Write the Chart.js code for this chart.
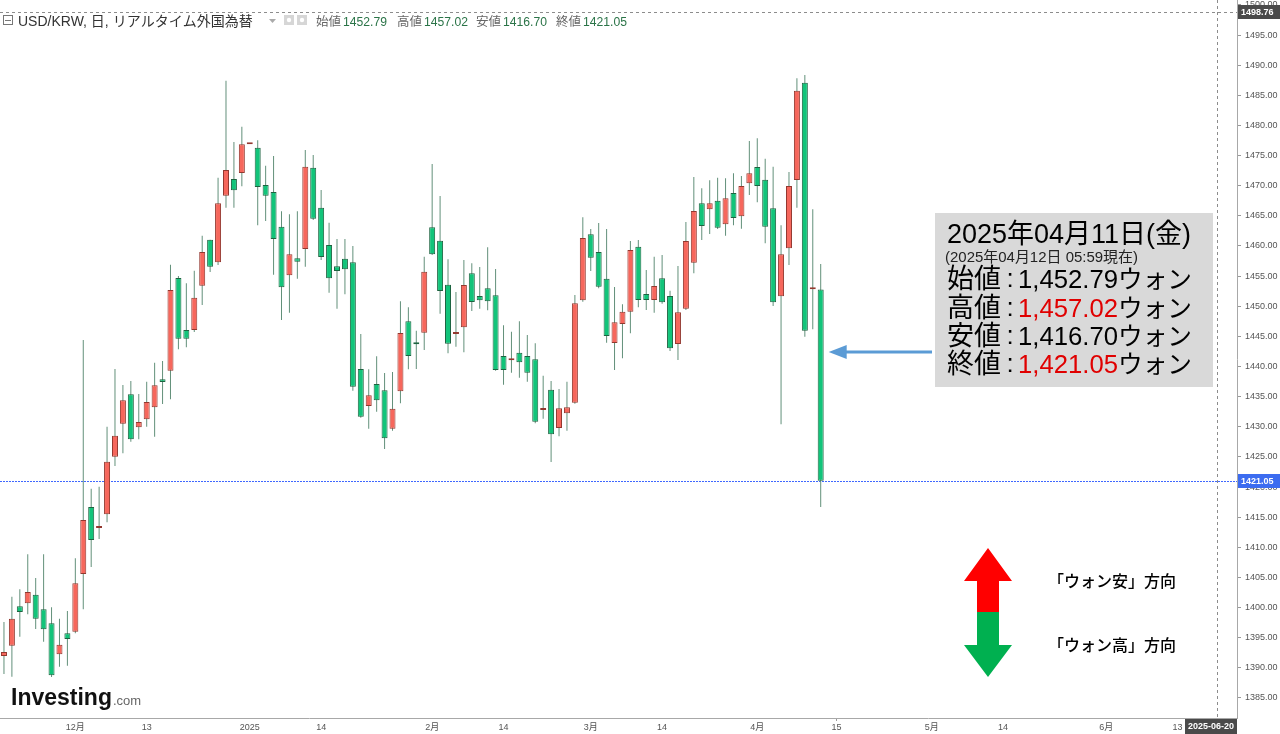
<!DOCTYPE html>
<html><head><meta charset="utf-8">
<script src="https://cdn.jsdelivr.net/npm/chart.js@4.4.1/dist/chart.umd.min.js"></script>
<style>html,body{margin:0;padding:0;background:#fff;overflow:hidden}canvas{display:block}</style>
</head><body>
<canvas id="c" width="1280" height="734"></canvas>
<script>
// ---- data ----
const firstDate = '2024-11-19';
const lastDate = '2025-06-24';
const opens = [1391.97,1393.68,1400.21,1400.71,1402.14,1399.71,1397.39,1392.25,1395.73,1396.00,
1405.57,1416.69,1413.20,1415.48,1425.03,1430.51,1435.39,1429.91,1431.24,1433.23,
1437.88,1439.30,1454.68,1446.06,1446.06,1453.41,1461.04,1457.29,1468.34,1471.11,
1472.11,1476.87,1476.30,1470.11,1468.95,1463.20,1455.13,1457.95,1459.50,1472.99,
1466.35,1460.16,1456.63,1457.89,1457.29,1439.59,1433.45,1437.10,1436.05,1429.68,
1435.88,1447.50,1443.78,1445.61,1463.10,1460.87,1453.57,1445.39,1446.50,1455.46,
1451.70,1452.97,1451.81,1441.74,1441.03,1442.29,1441.74,1441.19,1432.78,1436.15,
1429.80,1432.24,1433.99,1450.98,1461.93,1459.00,1454.57,1443.90,1447.05,1449.09,
1459.88,1452.03,1451.03,1454.63,1451.70,1443.73,1449.59,1457.22,1467.08,1466.08,
1467.51,1463.59,1468.79,1464.92,1470.40,1473.10,1470.99,1466.25,1451.65,1459.61,
1470.94,1487.09,1452.81,1452.79];
const highs = [1397.61,1401.80,1403.03,1408.84,1404.91,1408.84,1400.05,1398.15,1399.43,1408.18,
1444.40,1419.72,1420.06,1430.01,1439.59,1436.93,1437.59,1435.44,1437.48,1440.63,
1440.91,1456.89,1455.01,1453.80,1455.90,1461.70,1461.04,1471.33,1487.42,1477.25,
1479.79,1476.87,1477.53,1473.32,1474.93,1465.75,1465.25,1465.75,1475.92,1475.09,
1469.29,1463.86,1461.16,1461.16,1459.99,1445.39,1439.54,1441.69,1438.92,1439.09,
1450.82,1449.82,1445.94,1458.22,1473.60,1468.29,1457.79,1452.36,1457.67,1457.12,
1456.51,1459.78,1456.18,1446.84,1445.77,1447.50,1445.23,1443.85,1438.47,1437.59,
1436.27,1437.48,1451.86,1464.76,1462.81,1463.81,1462.81,1453.19,1450.32,1460.82,
1460.99,1456.01,1458.22,1458.50,1452.58,1456.68,1463.97,1471.44,1469.57,1470.89,
1471.33,1471.23,1472.06,1471.61,1477.42,1477.86,1474.48,1473.15,1463.43,1472.27,
1487.82,1488.37,1466.08,1457.02];
const lows = [1388.98,1388.53,1395.17,1398.89,1396.45,1394.34,1388.50,1390.19,1390.36,1395.73,
1399.71,1406.73,1411.38,1414.15,1423.49,1425.60,1427.50,1427.92,1430.01,1428.35,
1433.78,1434.56,1442.85,1443.19,1445.72,1450.20,1455.68,1456.84,1466.35,1466.35,
1469.90,1476.87,1463.43,1464.14,1455.23,1447.72,1448.93,1454.57,1456.56,1464.30,
1457.67,1452.25,1449.59,1451.98,1435.98,1431.50,1429.68,1432.50,1426.31,1429.35,
1433.89,1439.54,1439.59,1442.74,1458.50,1448.76,1442.19,1443.28,1442.36,1449.21,
1449.59,1449.32,1439.30,1436.98,1438.97,1438.14,1437.48,1430.60,1431.34,1424.16,
1428.42,1429.35,1433.80,1450.75,1455.85,1453.00,1443.95,1439.42,1441.36,1445.51,
1449.82,1449.37,1448.93,1450.40,1442.57,1441.08,1449.37,1455.46,1460.99,1461.98,
1462.80,1461.70,1463.43,1462.86,1468.46,1467.24,1460.44,1450.04,1430.41,1456.84,
1466.35,1444.94,1446.17,1416.70];
const closes = [1392.63,1398.15,1399.27,1402.59,1398.15,1396.40,1388.76,1393.84,1394.79,1404.03,
1414.53,1411.21,1413.37,1424.20,1428.52,1434.39,1427.92,1430.79,1434.11,1436.88,
1437.43,1452.69,1444.61,1444.61,1451.42,1459.00,1456.56,1467.08,1472.60,1469.24,
1476.87,1476.87,1469.78,1468.34,1461.16,1453.14,1458.62,1457.39,1473.15,1464.52,
1458.17,1454.63,1455.85,1456.13,1436.65,1431.67,1435.22,1434.39,1428.09,1433.00,
1445.56,1441.74,1443.68,1455.73,1458.62,1452.53,1443.78,1445.67,1453.52,1450.70,
1450.98,1450.82,1439.42,1439.42,1441.29,1440.70,1438.97,1430.84,1433.06,1428.75,
1433.06,1433.23,1450.49,1461.32,1458.05,1453.24,1445.06,1447.33,1449.09,1459.33,
1451.03,1451.03,1453.36,1450.65,1443.02,1448.99,1460.82,1465.80,1463.31,1467.08,
1463.03,1467.91,1464.64,1469.95,1472.06,1469.95,1463.20,1450.65,1458.62,1469.95,
1485.76,1445.94,1453.14,1421.05];
const yTickValues = [1385,1390,1395,1400,1405,1410,1415,1420,1425,1430,1435,1440,1445,1450,1455,1460,1465,1470,1475,1480,1485,1490,1495,1500];
const xTickLabels = {'2024-12-02':'12月','2024-12-13':'13','2025-01-01':'2025','2025-01-14':'14','2025-02-03':'2月','2025-02-14':'14','2025-03-03':'3月','2025-03-14':'14','2025-04-01':'4月','2025-04-15':'15','2025-05-01':'5月','2025-05-14':'14','2025-06-02':'6月','2025-06-13':'13'};
const crosshairValue = 1498.76;
const crosshairDate = '2025-06-20';
const yMin = 1381.68, yMax = 1500.81;

// weekday categories
function weekdays(a, b) {
  const out = []; const d = new Date(a + 'T00:00:00Z'); const e = new Date(b + 'T00:00:00Z');
  while (d <= e) { const w = d.getUTCDay(); if (w > 0 && w < 6) out.push(d.toISOString().slice(0, 10)); d.setUTCDate(d.getUTCDate() + 1); }
  return out;
}
const dates = weekdays(firstDate, lastDate);

const UP_FILL = '#f6675c', UP_EDGE = '#93382f', DN_FILL = '#12c47a', DN_EDGE = '#1d6340', WICK = '#62907a';
const isUp = opens.map((o, i) => closes[i] >= o);
const FONT = '"Liberation Sans", "Noto Sans CJK JP", sans-serif';
const CJK = '"Noto Sans CJK JP", sans-serif';
Chart.defaults.font.family = FONT;

const last = closes.length - 1;
const fmt = v => v.toLocaleString('en-US', {minimumFractionDigits: 2, maximumFractionDigits: 2});

const overlay = {
  id: 'overlay',
  beforeDatasetsDraw(chart) {
    const {ctx, chartArea: a, scales: {x, y}} = chart;
    ctx.save();
    const py = Math.round(y.getPixelForValue(closes[last])) + 0.5;
    ctx.strokeStyle = '#3f68ff'; ctx.lineWidth = 1; ctx.setLineDash([2, 1]);
    ctx.beginPath(); ctx.moveTo(a.left, py); ctx.lineTo(a.right, py); ctx.stroke();
    ctx.strokeStyle = '#8c8c8c'; ctx.setLineDash([3, 3]);
    const cy = Math.round(y.getPixelForValue(crosshairValue)) + 0.5;
    ctx.beginPath(); ctx.moveTo(a.left, cy); ctx.lineTo(a.right, cy); ctx.stroke();
    const cx = Math.round(x.getPixelForValue(dates.indexOf(crosshairDate))) + 0.5;
    ctx.beginPath(); ctx.moveTo(cx, a.top); ctx.lineTo(cx, a.bottom); ctx.stroke();
    ctx.restore();
  },
  afterDraw(chart) {
    const {ctx, chartArea: a, scales: {x, y}} = chart;
    ctx.save();
    ctx.setLineDash([]);
    // y-axis value boxes
    const box = (val, color) => {
      const py = y.getPixelForValue(val);
      ctx.fillStyle = color; ctx.fillRect(a.right + 1, Math.round(py) - 7, 1280 - a.right - 1, 14);
      ctx.fillStyle = '#fff'; ctx.font = 'bold 9px ' + FONT; ctx.textBaseline = 'middle'; ctx.textAlign = 'left';
      ctx.fillText(val.toFixed(2), a.right + 4, Math.round(py) + 0.5);
    };
    box(crosshairValue, '#4a4a4a');
    box(closes[last], '#3c6cf0');
    // x crosshair label
    const cx = x.getPixelForValue(dates.indexOf(crosshairDate));
    const bw = 52; let bx = cx - bw / 2; if (bx + bw > a.right) bx = a.right - bw;
    ctx.fillStyle = '#4a4a4a'; ctx.fillRect(bx, a.bottom + 1, bw, 734 - a.bottom - 1);
    ctx.fillStyle = '#fff'; ctx.font = 'bold 9px ' + FONT; ctx.textAlign = 'center'; ctx.textBaseline = 'middle';
    ctx.fillText(crosshairDate, bx + bw / 2, a.bottom + 9);

    // header
    ctx.textAlign = 'left'; ctx.textBaseline = 'alphabetic';
    ctx.strokeStyle = '#777'; ctx.lineWidth = 1;
    ctx.strokeRect(3.5, 15.5, 9, 9); ctx.beginPath(); ctx.moveTo(5, 20.5); ctx.lineTo(11, 20.5); ctx.stroke();
    ctx.fillStyle = '#333'; ctx.font = '14px ' + FONT;
    ctx.fillText('USD/KRW, 日, リアルタイム外国為替', 18, 26, 247);
    ctx.fillStyle = '#aaa'; ctx.beginPath(); ctx.moveTo(269, 19); ctx.lineTo(276, 19); ctx.lineTo(272.5, 23); ctx.closePath(); ctx.fill();
    ctx.fillStyle = '#d6d6d6'; ctx.fillRect(284, 15, 10, 10); ctx.fillRect(297, 15, 10, 10);
    ctx.fillStyle = '#fff'; ctx.beginPath(); ctx.arc(289, 20, 2.2, 0, 7); ctx.fill(); ctx.beginPath(); ctx.arc(302, 20, 2.2, 0, 7); ctx.fill();
    const stats = [['始値', opens[last], 316], ['高値', highs[last], 397], ['安値', lows[last], 476], ['終値', closes[last], 556]];
    stats.forEach(([lab, v, sx]) => {
      ctx.fillStyle = '#666'; ctx.font = '12.5px ' + CJK; ctx.fillText(lab, sx, 26);
      ctx.fillStyle = '#2b7448'; ctx.font = '12.5px ' + FONT; ctx.fillText(v.toFixed(2), sx + 27, 26, 44);
    });

    // logo
    ctx.fillStyle = '#111'; ctx.font = 'bold 23px ' + FONT; ctx.fillText('Investing', 11, 705, 101);
    const lw = Math.min(ctx.measureText('Investing').width, 101);
    ctx.fillStyle = '#666'; ctx.font = '13px ' + FONT; ctx.fillText('.com', 12 + lw, 705);

    // annotation box
    ctx.fillStyle = '#d9d9d9'; ctx.fillRect(935, 213, 278, 174);
    ctx.fillStyle = '#000'; ctx.font = '27px ' + FONT;
    ctx.fillText('2025年04月11日(金)', 947, 243, 250);
    ctx.fillStyle = '#222'; ctx.font = '15px ' + FONT;
    ctx.fillText('(2025年04月12日 05:59現在)', 945, 262, 193);
    const rows = [['始値', opens[last], false, 288], ['高値', highs[last], true, 317], ['安値', lows[last], false, 345], ['終値', closes[last], true, 373]];
    rows.forEach(([lab, v, red, by]) => {
      ctx.fillStyle = '#000'; ctx.font = '27px ' + CJK; ctx.fillText(lab, 947, by, 55);
      ctx.font = '26px ' + FONT; ctx.textAlign = 'center'; ctx.fillText(':', 1010, by - 1); ctx.textAlign = 'left';
      ctx.fillStyle = red ? '#e00000' : '#000'; ctx.font = '26px ' + FONT;
      const s = fmt(v); ctx.fillText(s, 1018, by, 100);
      const w = Math.min(ctx.measureText(s).width, 100);
      ctx.fillStyle = '#000'; ctx.font = '25px ' + CJK; ctx.fillText('ウォン', 1018 + w, by, 74);
    });

    // blue arrow to last candle
    const tipX = x.getPixelForValue(last) + 8, ay = 352;
    ctx.strokeStyle = '#5b9bd5'; ctx.fillStyle = '#5b9bd5'; ctx.lineWidth = 3;
    ctx.beginPath(); ctx.moveTo(932, ay); ctx.lineTo(tipX + 14, ay); ctx.stroke();
    ctx.beginPath(); ctx.moveTo(tipX, ay); ctx.lineTo(tipX + 18, ay - 7); ctx.lineTo(tipX + 18, ay + 7); ctx.closePath(); ctx.fill();

    // red/green direction arrows
    ctx.fillStyle = '#ff0000';
    ctx.beginPath(); ctx.moveTo(988, 548); ctx.lineTo(1012, 581); ctx.lineTo(999, 581); ctx.lineTo(999, 612); ctx.lineTo(977, 612); ctx.lineTo(977, 581); ctx.lineTo(964, 581); ctx.closePath(); ctx.fill();
    ctx.fillStyle = '#00b050';
    ctx.beginPath(); ctx.moveTo(977, 612); ctx.lineTo(999, 612); ctx.lineTo(999, 645); ctx.lineTo(1012, 645); ctx.lineTo(988, 677); ctx.lineTo(964, 645); ctx.lineTo(977, 645); ctx.closePath(); ctx.fill();
    ctx.fillStyle = '#000'; ctx.font = '500 16px ' + CJK;
    ctx.fillText('「ウォン安」方向', 1048, 587);
    ctx.fillText('「ウォン高」方向', 1048, 651);
    ctx.restore();
  }
};

new Chart(document.getElementById('c'), {
  type: 'bar',
  data: {
    labels: dates,
    datasets: [
      {
        label: 'body', order: 0,
        data: opens.map((o, i) => [o, closes[i]]),
        backgroundColor: isUp.map(u => u ? UP_FILL : DN_FILL),
        borderColor: isUp.map(u => u ? UP_EDGE : DN_EDGE),
        borderWidth: 1, borderSkipped: false, barThickness: 6, minBarLength: 2, inflateAmount: 0
      },
      {
        label: 'wick', order: 1,
        data: lows.map((l, i) => [l, highs[i]]),
        backgroundColor: WICK, borderWidth: 0, barThickness: 1, inflateAmount: 0
      }
    ]
  },
  options: {
    responsive: false, animation: false, devicePixelRatio: 1,
    layout: {padding: 0},
    datasets: {bar: {grouped: false}},
    plugins: {legend: {display: false}, tooltip: {enabled: false}},
    scales: {
      x: {
        type: 'category', offset: true,
        grid: {display: true, offset: false, drawOnChartArea: false, drawTicks: true, tickLength: 3,
          color: c => (c.index < dates.length && xTickLabels[dates[c.index]]) ? '#999' : 'rgba(0,0,0,0)'},
        border: {display: true, color: '#a8a8a8'},
        ticks: {autoSkip: false, maxRotation: 0, minRotation: 0, padding: 1, color: '#555', font: {size: 9},
          callback: (v, i) => xTickLabels[dates[i]] ?? null},
        afterFit(s) { s.height = 16; s.paddingLeft = 0; s.paddingRight = 0; }
      },
      y: {
        position: 'right', min: yMin, max: yMax,
        afterBuildTicks(s) { s.ticks = yTickValues.map(v => ({value: v})); },
        grid: {drawOnChartArea: false, drawTicks: true, tickLength: 4, color: '#999'},
        border: {display: true, color: '#a8a8a8'},
        ticks: {padding: 4, color: '#555', font: {size: 9}, callback: v => Number(v).toFixed(2)},
        afterFit(s) { s.width = 43; s.paddingTop = 0; s.paddingBottom = 0; }
      }
    }
  },
  plugins: [overlay]
});
</script>
</body></html>
